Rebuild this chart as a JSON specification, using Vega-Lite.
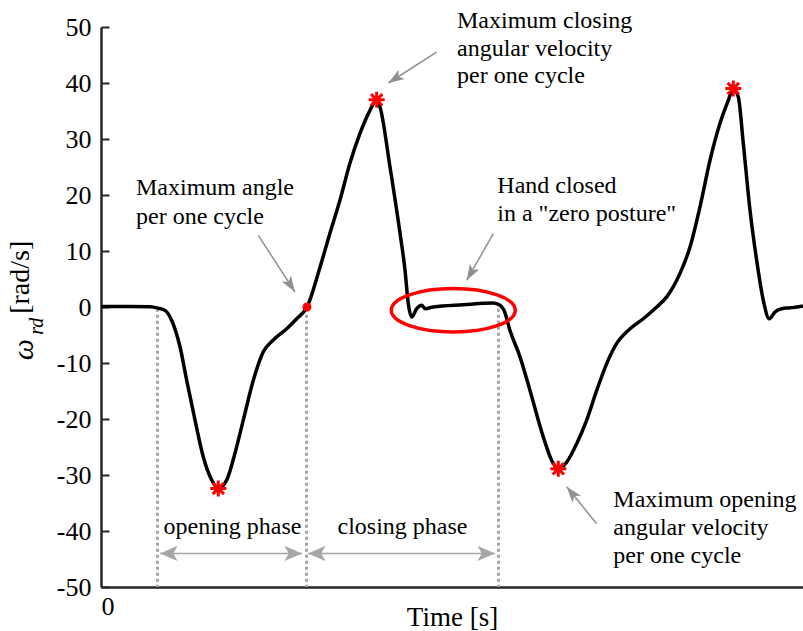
{
  "$schema": "https://vega.github.io/schema/vega-lite/v6.json",
  "width": 702,
  "height": 560,
  "autosize": {"type": "none"},
  "padding": {"left": 101, "top": 27, "right": 0, "bottom": 44},
  "background": "white",
  "config": {
    "view": {"stroke": null},
    "font": "Liberation Serif",
    "text": {"font": "Liberation Serif", "fontSize": 24, "color": "black"}
  },
  "datasets": {
    "curve": [
      {"t": 0.0, "w": 0.1}, {"t": 0.29, "w": 0.1}, {"t": 0.49, "w": 0.05}, {"t": 0.57, "w": -0.2},
      {"t": 0.64, "w": -0.6}, {"t": 0.707, "w": -2.4}, {"t": 0.79, "w": -7.1}, {"t": 0.857, "w": -13.1},
      {"t": 0.94, "w": -20.2}, {"t": 1.023, "w": -26.8}, {"t": 1.107, "w": -30.9}, {"t": 1.173, "w": -32.4},
      {"t": 1.257, "w": -30.9}, {"t": 1.34, "w": -26.1}, {"t": 1.423, "w": -20.2}, {"t": 1.523, "w": -13.1},
      {"t": 1.623, "w": -8.0}, {"t": 1.723, "w": -5.9}, {"t": 1.857, "w": -3.9}, {"t": 1.957, "w": -2.1},
      {"t": 2.06, "w": 0.0}, {"t": 2.19, "w": 7.1}, {"t": 2.29, "w": 13.2}, {"t": 2.39, "w": 19.1},
      {"t": 2.49, "w": 25.7}, {"t": 2.59, "w": 31.0}, {"t": 2.69, "w": 35.1}, {"t": 2.757, "w": 37.0},
      {"t": 2.79, "w": 35.7}, {"t": 2.89, "w": 25.0}, {"t": 2.99, "w": 13.2}, {"t": 3.04, "w": 6.6},
      {"t": 3.073, "w": 0.6}, {"t": 3.107, "w": -1.8}, {"t": 3.157, "w": -0.3}, {"t": 3.207, "w": 0.3},
      {"t": 3.24, "w": -0.3}, {"t": 3.323, "w": 0.0}, {"t": 3.623, "w": 0.4}, {"t": 3.923, "w": 0.7},
      {"t": 3.99, "w": 0.3}, {"t": 4.03, "w": -0.6}, {"t": 4.09, "w": -4.2}, {"t": 4.19, "w": -8.9},
      {"t": 4.29, "w": -14.9}, {"t": 4.423, "w": -23.2}, {"t": 4.507, "w": -27.4}, {"t": 4.573, "w": -28.9},
      {"t": 4.657, "w": -27.7}, {"t": 4.757, "w": -24.4}, {"t": 4.857, "w": -20.2}, {"t": 4.957, "w": -14.9},
      {"t": 5.057, "w": -10.1}, {"t": 5.157, "w": -6.5}, {"t": 5.29, "w": -3.9}, {"t": 5.423, "w": -2.1},
      {"t": 5.557, "w": 0.0}, {"t": 5.657, "w": 1.8}, {"t": 5.79, "w": 6.0}, {"t": 5.89, "w": 10.7},
      {"t": 5.99, "w": 17.9}, {"t": 6.09, "w": 26.2}, {"t": 6.19, "w": 32.8}, {"t": 6.273, "w": 36.9},
      {"t": 6.323, "w": 39.0}, {"t": 6.373, "w": 37.5}, {"t": 6.423, "w": 29.2}, {"t": 6.49, "w": 17.3},
      {"t": 6.557, "w": 8.3}, {"t": 6.623, "w": 1.2}, {"t": 6.683, "w": -2.1}, {"t": 6.74, "w": -0.9},
      {"t": 6.807, "w": -0.3}, {"t": 6.89, "w": -0.15}, {"t": 7.02, "w": 0.2}
    ],
    "peaks": [
      {"t": 1.173, "w": -32.4}, {"t": 2.757, "w": 37.0}, {"t": 4.573, "w": -28.9}, {"t": 6.323, "w": 39.0}
    ],
    "phaseBounds": [{"t": 0.565}, {"t": 2.055}, {"t": 3.975}],
    "phases": [
      {"phase": "opening phase", "from": 0.59, "to": 2.01, "mid": 1.315},
      {"phase": "closing phase", "from": 2.07, "to": 3.94, "mid": 3.015}
    ],
    "pointers": [
      {"id": "angle", "t0": 1.573, "w0": 12.8, "t1": 1.94, "w1": 2.68},
      {"id": "closing", "t0": 3.357, "w0": 45.5, "t1": 2.873, "w1": 40.0},
      {"id": "zero", "t0": 3.923, "w0": 13.1, "t1": 3.657, "w1": 4.77},
      {"id": "opening", "t0": 4.957, "w0": -38.7, "t1": 4.657, "w1": -32.1}
    ],
    "notes": [
      {"t": 0.35, "w": 19.95, "text": "Maximum angle"},
      {"t": 0.35, "w": 14.9, "text": "per one cycle"},
      {"t": 3.56, "w": 49.9, "text": "Maximum closing"},
      {"t": 3.56, "w": 44.9, "text": "angular velocity"},
      {"t": 3.56, "w": 40.0, "text": "per one cycle"},
      {"t": 3.963, "w": 20.36, "text": "Hand closed"},
      {"t": 3.963, "w": 15.36, "text": "in a \"zero posture\""},
      {"t": 5.123, "w": -35.7, "text": "Maximum opening"},
      {"t": 5.123, "w": -40.77, "text": "angular velocity"},
      {"t": 5.123, "w": -45.7, "text": "per one cycle"}
    ]
  },
  "layer": [
    {
      "description": "zero reference line",
      "mark": {"type": "rule", "color": "#a6a6a6", "strokeWidth": 4, "strokeDash": [17, 9]},
      "encoding": {"y": {"datum": -0.3, "type": "quantitative", "scale": {"domain": [-50, 50]}}}
    },
    {
      "description": "phase boundaries",
      "data": {"name": "phaseBounds"},
      "mark": {"type": "rule", "color": "#a6a6a6", "strokeWidth": 3, "strokeDash": [3, 3]},
      "encoding": {
        "x": {"field": "t", "type": "quantitative"},
        "y": {"datum": -0.3, "type": "quantitative"},
        "y2": {"datum": -50}
      }
    },
    {
      "description": "angular velocity trace",
      "data": {"name": "curve"},
      "mark": {"type": "line", "color": "black", "strokeWidth": 3.5, "interpolate": "monotone", "clip": true},
      "encoding": {
        "x": {
          "field": "t", "type": "quantitative",
          "scale": {"domain": [0, 7.02], "nice": false, "zero": false},
          "axis": {
            "values": [0], "labelExpr": "'' + datum.value", "tickSize": 0, "labelPadding": 6,
            "labelFont": "Liberation Serif", "labelFontSize": 26, "labelColor": "black",
            "domainColor": "#262626", "domainWidth": 2.5, "grid": false,
            "title": "Time [s]", "titleFont": "Liberation Serif", "titleFontSize": 27,
            "titleFontWeight": "normal", "titleColor": "black", "titleY": 38, "titleBaseline": "alphabetic"
          }
        },
        "y": {
          "field": "w", "type": "quantitative",
          "scale": {"domain": [-50, 50], "nice": false},
          "axis": {
            "values": [-50, -40, -30, -20, -10, 0, 10, 20, 30, 40, 50], "labelExpr": "'' + datum.value",
            "tickSize": -8, "tickWidth": 2, "tickColor": "#262626", "labelPadding": 18,
            "labelFont": "Liberation Serif", "labelFontSize": 26, "labelColor": "black",
            "domainColor": "#262626", "domainWidth": 2.5, "grid": false, "title": null
          }
        }
      }
    },
    {
      "description": "phase span arrows",
      "data": {"name": "phases"},
      "mark": {"type": "rule", "color": "#a6a6a6", "strokeWidth": 1.5},
      "encoding": {
        "x": {"field": "from", "type": "quantitative"},
        "x2": {"field": "to"},
        "y": {"datum": -44, "type": "quantitative"}
      }
    },
    {
      "data": {"name": "phases"},
      "mark": {"type": "point", "shape": "M0,0L1.6,-0.7L1.2,0L1.6,0.7Z", "size": 484, "filled": true, "color": "#a6a6a6", "opacity": 1},
      "encoding": {"x": {"field": "from", "type": "quantitative"}, "y": {"datum": -44, "type": "quantitative"}}
    },
    {
      "data": {"name": "phases"},
      "mark": {"type": "point", "shape": "M0,0L-1.6,-0.7L-1.2,0L-1.6,0.7Z", "size": 484, "filled": true, "color": "#a6a6a6", "opacity": 1},
      "encoding": {"x": {"field": "to", "type": "quantitative"}, "y": {"datum": -44, "type": "quantitative"}}
    },
    {
      "data": {"name": "phases"},
      "mark": {"type": "text", "align": "center", "baseline": "alphabetic"},
      "encoding": {
        "x": {"field": "mid", "type": "quantitative"},
        "y": {"datum": -40.46, "type": "quantitative"},
        "text": {"field": "phase"}
      }
    },
    {
      "description": "annotation pointers",
      "data": {"name": "pointers"},
      "mark": {"type": "rule", "color": "#909090", "strokeWidth": 1.5},
      "encoding": {
        "x": {"field": "t0", "type": "quantitative"},
        "y": {"field": "w0", "type": "quantitative"},
        "x2": {"field": "t1"},
        "y2": {"field": "w1"}
      }
    },
    {
      "data": {"name": "pointers"},
      "transform": [{"filter": "datum.id === 'angle'"}],
      "mark": {"type": "point", "shape": "M0,0L0.55,1.6L0,1.2L-0.55,1.6Z", "size": 400, "filled": true, "color": "#909090", "opacity": 1, "angle": 147},
      "encoding": {"x": {"field": "t1", "type": "quantitative"}, "y": {"field": "w1", "type": "quantitative"}}
    },
    {
      "data": {"name": "pointers"},
      "transform": [{"filter": "datum.id === 'closing'"}],
      "mark": {"type": "point", "shape": "M0,0L0.55,1.6L0,1.2L-0.55,1.6Z", "size": 400, "filled": true, "color": "#909090", "opacity": 1, "angle": 237},
      "encoding": {"x": {"field": "t1", "type": "quantitative"}, "y": {"field": "w1", "type": "quantitative"}}
    },
    {
      "data": {"name": "pointers"},
      "transform": [{"filter": "datum.id === 'zero'"}],
      "mark": {"type": "point", "shape": "M0,0L0.55,1.6L0,1.2L-0.55,1.6Z", "size": 400, "filled": true, "color": "#909090", "opacity": 1, "angle": 210},
      "encoding": {"x": {"field": "t1", "type": "quantitative"}, "y": {"field": "w1", "type": "quantitative"}}
    },
    {
      "data": {"name": "pointers"},
      "transform": [{"filter": "datum.id === 'opening'"}],
      "mark": {"type": "point", "shape": "M0,0L0.55,1.6L0,1.2L-0.55,1.6Z", "size": 400, "filled": true, "color": "#909090", "opacity": 1, "angle": 321},
      "encoding": {"x": {"field": "t1", "type": "quantitative"}, "y": {"field": "w1", "type": "quantitative"}}
    },
    {
      "description": "zero posture highlight",
      "data": {"values": [{"t": 3.523, "w": -0.59}]},
      "mark": {"type": "point", "shape": "M-1,0A1,0.35,0,1,1,1,0A1,0.35,0,1,1,-1,0Z", "size": 15376, "filled": false, "color": "red", "strokeWidth": 3.5, "opacity": 1},
      "encoding": {"x": {"field": "t", "type": "quantitative"}, "y": {"field": "w", "type": "quantitative"}}
    },
    {
      "description": "velocity extrema",
      "data": {"name": "peaks"},
      "mark": {"type": "point", "shape": "M0,-1L0,1M-1,0L1,0M-0.71,-0.71L0.71,0.71M-0.71,0.71L0.71,-0.71", "size": 256, "filled": false, "color": "red", "strokeWidth": 3, "opacity": 1},
      "encoding": {"x": {"field": "t", "type": "quantitative"}, "y": {"field": "w", "type": "quantitative"}}
    },
    {
      "description": "maximum angle point",
      "data": {"values": [{"t": 2.06, "w": 0}]},
      "mark": {"type": "point", "shape": "circle", "size": 80, "filled": true, "color": "red", "opacity": 1},
      "encoding": {"x": {"field": "t", "type": "quantitative"}, "y": {"field": "w", "type": "quantitative"}}
    },
    {
      "description": "annotation text",
      "data": {"name": "notes"},
      "mark": {"type": "text", "align": "left", "baseline": "alphabetic"},
      "encoding": {
        "x": {"field": "t", "type": "quantitative"},
        "y": {"field": "w", "type": "quantitative"},
        "text": {"field": "text"}
      }
    },
    {
      "description": "y axis title: omega",
      "data": {"values": [{"t": -0.68, "w": -7.6, "label": "ω"}]},
      "mark": {"type": "text", "angle": 270, "align": "center", "baseline": "alphabetic", "fontStyle": "italic", "fontSize": 30},
      "encoding": {"x": {"field": "t", "type": "quantitative"}, "y": {"field": "w", "type": "quantitative"}, "text": {"field": "label"}}
    },
    {
      "description": "y axis title: subscript",
      "data": {"values": [{"t": -0.58, "w": -3.45, "label": "rd"}]},
      "mark": {"type": "text", "angle": 270, "align": "center", "baseline": "alphabetic", "fontStyle": "italic", "fontSize": 20},
      "encoding": {"x": {"field": "t", "type": "quantitative"}, "y": {"field": "w", "type": "quantitative"}, "text": {"field": "label"}}
    },
    {
      "description": "y axis title: unit",
      "data": {"values": [{"t": -0.72, "w": 5.3, "label": "[rad/s]"}]},
      "mark": {"type": "text", "angle": 270, "align": "center", "baseline": "alphabetic", "fontSize": 28},
      "encoding": {"x": {"field": "t", "type": "quantitative"}, "y": {"field": "w", "type": "quantitative"}, "text": {"field": "label"}}
    }
  ]
}
